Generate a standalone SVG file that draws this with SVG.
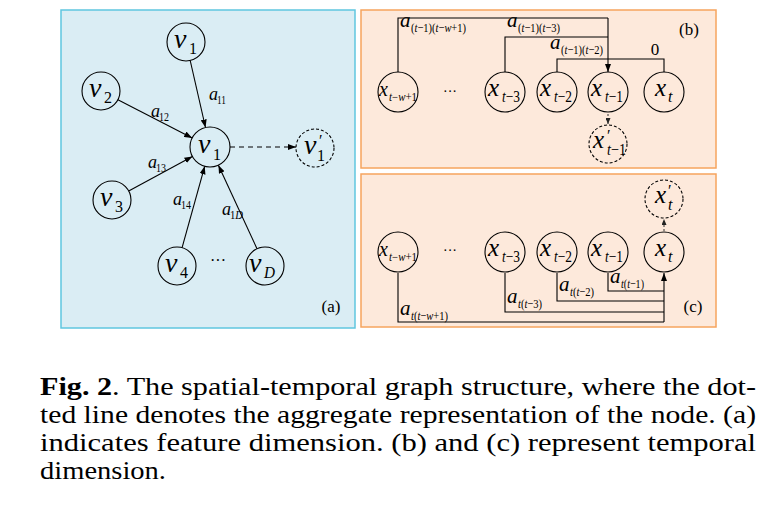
<svg xmlns="http://www.w3.org/2000/svg" width="768" height="515" viewBox="0 0 768 515" font-family="'Liberation Serif', 'Times New Roman', serif">
<defs>
<marker id="arr" markerWidth="8" markerHeight="6" refX="8" refY="3" orient="auto" markerUnits="userSpaceOnUse"><path d="M0,0 L8,3 L0,6 z" fill="#000"/></marker>
<marker id="arrs" markerWidth="6" markerHeight="5" refX="6" refY="2.5" orient="auto" markerUnits="userSpaceOnUse"><path d="M0,0 L6,2.5 L0,5 z" fill="#222"/></marker>
<style>
.pa{fill:#daedf4;stroke:#5fc6df;stroke-width:1.5}
.pb{fill:#fde9db;stroke:#f6a45e;stroke-width:1.5}
.c{fill:none;stroke:#000;stroke-width:1.1}
.cd{fill:none;stroke:#000;stroke-width:1.1;stroke-dasharray:3 2}
.e{fill:none;stroke:#000;stroke-width:1.1}
.ed{fill:none;stroke:#000;stroke-width:1.1;stroke-dasharray:5 4}
.eo{fill:none;stroke:#333;stroke-width:1;stroke-dasharray:2 2}
text{font-family:'Liberation Serif','Times New Roman',serif;fill:#000}
.i{font-style:italic}
.v{font-size:28px;font-style:italic}
.x{font-size:25px;font-style:italic}
.xs{font-size:20px;font-style:italic}
.s{font-size:16px}
.ss{font-size:12px}
.la{font-size:18px;font-style:italic}
.lb{font-size:21px;font-style:italic}
.sl{font-size:12px;font-style:normal}
.sb{font-size:13px;font-style:normal}
.cap{font-size:26px}
</style>
</defs>
<rect class="pa" x="61" y="10" width="294" height="318"/>
<rect class="pb" x="361" y="10" width="355" height="158"/>
<rect class="pb" x="361" y="174" width="355" height="153"/>

<g id="connectors">
<line class="e" x1="190.2" y1="60.5" x2="205.5" y2="127.5" marker-end="url(#arr)"/>
<line class="e" x1="117.9" y1="99.7" x2="192.2" y2="137.9" marker-end="url(#arr)"/>
<line class="e" x1="128.7" y1="191" x2="192.4" y2="156.5" marker-end="url(#arr)"/>
<line class="e" x1="182.1" y1="247.7" x2="204.7" y2="166.3" marker-end="url(#arr)"/>
<line class="e" x1="257" y1="248.7" x2="218.4" y2="165.2" marker-end="url(#arr)"/>
<line class="ed" x1="230" y1="147" x2="296" y2="147" marker-end="url(#arr)"/>
<path class="e" d="M398,72 V18 H608"/>
<path class="e" d="M505,72 V37 H608"/>
<path class="e" d="M557,72 V59 H664 V72"/>
<path class="e" d="M608,18 V72" marker-end="url(#arr)"/>
<line class="eo" x1="608" y1="114" x2="608" y2="124" marker-end="url(#arrs)"/>
<path class="e" d="M398,273 V322 H664"/>
<path class="e" d="M505,273 V312 H664"/>
<path class="e" d="M557,273 V301 H664"/>
<path class="e" d="M608,273 V291 H664"/>
<path class="e" d="M664,322 V273" marker-end="url(#arr)"/>
<line class="eo" x1="664" y1="231" x2="664" y2="219" marker-end="url(#arrs)"/>
</g>

<g id="labels-a">
<text class="la"><tspan x="209" y="100">a</tspan><tspan class="sl" x="217" y="104" textLength="9" lengthAdjust="spacingAndGlyphs">11</tspan></text>
<text class="la"><tspan x="151" y="117">a</tspan><tspan class="sl" x="159" y="121" textLength="10" lengthAdjust="spacingAndGlyphs">12</tspan></text>
<text class="la"><tspan x="148" y="168">a</tspan><tspan class="sl" x="156" y="172" textLength="10" lengthAdjust="spacingAndGlyphs">13</tspan></text>
<text class="la"><tspan x="173" y="205">a</tspan><tspan class="sl" x="181" y="209" textLength="10" lengthAdjust="spacingAndGlyphs">14</tspan></text>
<text class="la"><tspan x="222" y="215">a</tspan><tspan class="sl" x="230" y="219" textLength="13" lengthAdjust="spacingAndGlyphs">1<tspan class="i">D</tspan></tspan></text>
<text x="218" y="266" font-size="16" text-anchor="middle">···</text>
<text x="331" y="312" font-size="17" text-anchor="middle">(a)</text>
</g>

<g id="node-a-v1top"><circle class="c" cx="186" cy="42" r="19"/><text><tspan class="v" x="174" y="48">v</tspan><tspan class="s" x="189" y="54">1</tspan></text></g>
<g id="node-a-v2"><circle class="c" cx="101" cy="91" r="19"/><text><tspan class="v" x="89" y="97">v</tspan><tspan class="s" x="104" y="103">2</tspan></text></g>
<g id="node-a-v1"><circle class="c" cx="210" cy="147" r="20"/><text><tspan class="v" x="198" y="153">v</tspan><tspan class="s" x="213" y="160">1</tspan></text></g>
<g id="node-a-v1p"><circle class="cd" cx="315" cy="148" r="19"/><text><tspan class="v" x="304" y="154">v</tspan><tspan class="s" x="319" y="146">′</tspan><tspan class="s" x="317" y="161">1</tspan></text></g>
<g id="node-a-v3"><circle class="c" cx="112" cy="200" r="19"/><text><tspan class="v" x="100" y="206">v</tspan><tspan class="s" x="115" y="212">3</tspan></text></g>
<g id="node-a-v4"><circle class="c" cx="177" cy="266" r="19"/><text><tspan class="v" x="165" y="272">v</tspan><tspan class="s" x="180" y="278">4</tspan></text></g>
<g id="node-a-vD"><circle class="c" cx="265" cy="266" r="19"/><text><tspan class="v" x="249" y="272">v</tspan><tspan class="s i" x="264" y="278" textLength="11" lengthAdjust="spacingAndGlyphs">D</tspan></text></g>

<g id="labels-b">
<text class="lb"><tspan x="400" y="27">a</tspan><tspan class="sb" x="411" y="32" textLength="55" lengthAdjust="spacingAndGlyphs">(<tspan class="i">t</tspan>−1)(<tspan class="i">t</tspan>−<tspan class="i">w</tspan>+1)</tspan></text>
<text class="lb"><tspan x="507" y="27">a</tspan><tspan class="sb" x="518" y="32" textLength="42" lengthAdjust="spacingAndGlyphs">(<tspan class="i">t</tspan>−1)(<tspan class="i">t</tspan>−3)</tspan></text>
<text class="lb"><tspan x="550" y="49">a</tspan><tspan class="sb" x="561" y="54" textLength="42" lengthAdjust="spacingAndGlyphs">(<tspan class="i">t</tspan>−1)(<tspan class="i">t</tspan>−2)</tspan></text>
<text x="655" y="55" font-size="17" text-anchor="middle">0</text>
<text x="450" y="96" font-size="14" text-anchor="middle">···</text>
<text x="689" y="35" font-size="17" text-anchor="middle">(b)</text>
</g>

<g id="node-b-xtw1"><circle class="c" cx="398" cy="92" r="20"/><text><tspan class="xs" x="379" y="96">x</tspan><tspan class="ss" x="389" y="101" textLength="28" lengthAdjust="spacingAndGlyphs"><tspan class="i">t</tspan>−<tspan class="i">w</tspan>+1</tspan></text></g>
<g id="node-b-xt3"><circle class="c" cx="505" cy="92" r="20"/><text><tspan class="x" x="488" y="96">x</tspan><tspan class="s" x="502" y="102" textLength="18" lengthAdjust="spacingAndGlyphs"><tspan class="i">t</tspan>−3</tspan></text></g>
<g id="node-b-xt2"><circle class="c" cx="557" cy="92" r="20"/><text><tspan class="x" x="540" y="96">x</tspan><tspan class="s" x="554" y="102" textLength="18" lengthAdjust="spacingAndGlyphs"><tspan class="i">t</tspan>−2</tspan></text></g>
<g id="node-b-xt1"><circle class="c" cx="608" cy="92" r="20"/><text><tspan class="x" x="591" y="96">x</tspan><tspan class="s" x="605" y="102" textLength="18" lengthAdjust="spacingAndGlyphs"><tspan class="i">t</tspan>−1</tspan></text></g>
<g id="node-b-xt"><circle class="c" cx="664" cy="92" r="20"/><text><tspan class="x" x="655" y="96">x</tspan><tspan class="s i" x="668" y="102">t</tspan></text></g>
<g id="node-b-xt1p"><circle class="cd" cx="608" cy="144" r="19"/><text><tspan class="x" x="593" y="148">x</tspan><tspan class="s" x="607" y="141">′</tspan><tspan class="s" x="607" y="155" textLength="19" lengthAdjust="spacingAndGlyphs"><tspan class="i">t</tspan>−1</tspan></text></g>

<g id="labels-c">
<text class="lb"><tspan x="610" y="283">a</tspan><tspan class="sb" x="621" y="288" textLength="23" lengthAdjust="spacingAndGlyphs"><tspan class="i">t</tspan>(<tspan class="i">t</tspan>−1)</tspan></text>
<text class="lb"><tspan x="559" y="291">a</tspan><tspan class="sb" x="570" y="296" textLength="24" lengthAdjust="spacingAndGlyphs"><tspan class="i">t</tspan>(<tspan class="i">t</tspan>−2)</tspan></text>
<text class="lb"><tspan x="507" y="303">a</tspan><tspan class="sb" x="518" y="308" textLength="24" lengthAdjust="spacingAndGlyphs"><tspan class="i">t</tspan>(<tspan class="i">t</tspan>−3)</tspan></text>
<text class="lb"><tspan x="400" y="315">a</tspan><tspan class="sb" x="411" y="320" textLength="37" lengthAdjust="spacingAndGlyphs"><tspan class="i">t</tspan>(<tspan class="i">t</tspan>−<tspan class="i">w</tspan>+1)</tspan></text>
<text x="450" y="255" font-size="14" text-anchor="middle">···</text>
<text x="693" y="312" font-size="17" text-anchor="middle">(c)</text>
</g>

<g id="node-c-xtw1"><circle class="c" cx="398" cy="252" r="20"/><text><tspan class="xs" x="379" y="256">x</tspan><tspan class="ss" x="389" y="261" textLength="28" lengthAdjust="spacingAndGlyphs"><tspan class="i">t</tspan>−<tspan class="i">w</tspan>+1</tspan></text></g>
<g id="node-c-xt3"><circle class="c" cx="505" cy="252" r="20"/><text><tspan class="x" x="488" y="256">x</tspan><tspan class="s" x="502" y="262" textLength="18" lengthAdjust="spacingAndGlyphs"><tspan class="i">t</tspan>−3</tspan></text></g>
<g id="node-c-xt2"><circle class="c" cx="557" cy="252" r="20"/><text><tspan class="x" x="540" y="256">x</tspan><tspan class="s" x="554" y="262" textLength="18" lengthAdjust="spacingAndGlyphs"><tspan class="i">t</tspan>−2</tspan></text></g>
<g id="node-c-xt1"><circle class="c" cx="608" cy="252" r="20"/><text><tspan class="x" x="591" y="256">x</tspan><tspan class="s" x="605" y="262" textLength="18" lengthAdjust="spacingAndGlyphs"><tspan class="i">t</tspan>−1</tspan></text></g>
<g id="node-c-xt"><circle class="c" cx="664" cy="252" r="20"/><text><tspan class="x" x="655" y="256">x</tspan><tspan class="s i" x="668" y="262">t</tspan></text></g>
<g id="node-c-xtp"><circle class="cd" cx="664" cy="199" r="19"/><text><tspan class="x" x="655" y="203">x</tspan><tspan class="s" x="668" y="196">′</tspan><tspan class="s i" x="668" y="210">t</tspan></text></g>

<g id="caption">
<text class="cap" x="40" y="395" textLength="716" lengthAdjust="spacingAndGlyphs"><tspan font-weight="bold">Fig. 2</tspan>.  The spatial-temporal graph structure, where the dot-</text>
<text class="cap" x="40" y="423" textLength="716" lengthAdjust="spacingAndGlyphs">ted line denotes the aggregate representation of the node. (a)</text>
<text class="cap" x="40" y="451" textLength="716" lengthAdjust="spacingAndGlyphs">indicates feature dimension.  (b) and (c) represent temporal</text>
<text class="cap" x="40" y="479" textLength="126" lengthAdjust="spacingAndGlyphs">dimension.</text>
</g>
</svg>
